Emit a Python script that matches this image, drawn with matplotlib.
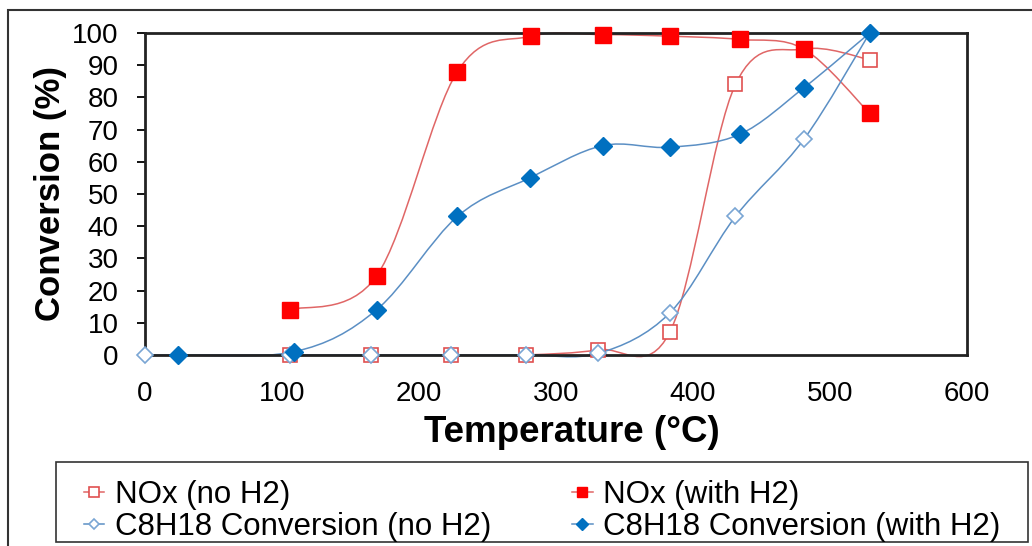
import matplotlib
matplotlib.use("Agg")
import matplotlib.pyplot as plt
from matplotlib.path import Path
from matplotlib.patches import PathPatch, Rectangle
from matplotlib.lines import Line2D

plt.rcParams['font.family'] = ['Liberation Sans', 'DejaVu Sans']

###################################
# Data

nox_no_h2_t = [106, 165, 223, 278, 331, 383, 431, 481, 529]
nox_no_h2 = [0, 0, 0, 0, 1.6, 7, 84, 95, 91.7]

nox_h2_t = [106, 169, 228, 282, 334, 383, 434, 481, 529]
nox_h2 = [14, 24.5, 88, 99, 99.5, 99, 98, 95, 75]

c8_no_h2_t = [0, 106, 165, 223, 278, 331, 383, 431, 481, 529]
c8_no_h2 = [0, 0, 0, 0, 0, 0.5, 13, 43, 67, 100]

c8_h2_t = [24, 109, 169, 228, 281, 334, 383, 434, 481, 529]
c8_h2 = [0, 1, 14, 43, 55, 65, 64.5, 68.5, 83, 100]

labels = ['NOx (no H2)', 'NOx (with H2)',
          'C8H18 Conversion (no H2)', 'C8H18 Conversion (with H2)']

RED_LINE = '#e06666'
BLUE_LINE = '#5b8fc4'
RED = '#ff0000'
BLUE = '#0070c0'


def smooth_path(xs, ys):
    """
    Excel style smoothed line: cubic bezier segments through every point
    """
    pts = list(zip(xs, ys))
    n = len(pts)
    verts = [pts[0]]
    codes = [Path.MOVETO]
    for i in range(n - 1):
        p0 = pts[max(i - 1, 0)]
        p1 = pts[i]
        p2 = pts[i + 1]
        p3 = pts[min(i + 2, n - 1)]
        c1 = (p1[0] + (p2[0] - p0[0]) / 6.0, p1[1] + (p2[1] - p0[1]) / 6.0)
        c2 = (p2[0] - (p3[0] - p1[0]) / 6.0, p2[1] - (p3[1] - p1[1]) / 6.0)
        verts += [c1, c2, p2]
        codes += [Path.CURVE4] * 3
    return Path(verts, codes)


fig = plt.figure(figsize=(10.32, 5.46), dpi=100)
ax = fig.add_axes([0.1405, 0.35, 0.7965, 0.5896])

series = [
    (nox_no_h2_t, nox_no_h2, RED_LINE, dict(marker='s', ms=10, mfc='white', mec='#e05050', mew=1.2)),
    (nox_h2_t, nox_h2, RED_LINE, dict(marker='s', ms=11, mfc=RED, mec=RED, mew=1)),
    (c8_no_h2_t, c8_no_h2, BLUE_LINE, dict(marker='D', ms=8, mfc='white', mec='#7aa6d4', mew=1.2)),
    (c8_h2_t, c8_h2, BLUE_LINE, dict(marker='D', ms=9, mfc=BLUE, mec=BLUE, mew=1)),
]

handles = []
for xs, ys, lc, mk in series:
    patch = PathPatch(smooth_path(xs, ys), facecolor='none', edgecolor=lc,
                      lw=1.1, clip_on=False, zorder=2)
    ax.add_patch(patch)
    ax.plot(xs, ys, linestyle='none', clip_on=False, zorder=3, **mk)
    handles.append(Line2D([], [], color=lc, lw=1.1, **mk))

ax.set_xlim(0, 600)
ax.set_ylim(0, 100)
ax.set_xticks(range(0, 601, 100))
ax.set_yticks(range(0, 101, 10))
ax.tick_params(axis='x', length=0, pad=19, labelsize=20)
ax.tick_params(axis='y', length=6, width=1.3, pad=13, labelsize=20)
for s in ax.spines.values():
    s.set_linewidth(2)
    s.set_color('#222222')

ax.set_ylabel('Conversion (%)', fontsize=25, fontweight='bold', labelpad=4)
fig.text(0.554, 0.208, 'Temperature (\u00b0C)', fontsize=26.5, fontweight='bold',
         ha='center', va='center')

# legend: column-major order so rows read NOx / C8H18
order = [0, 2, 1, 3]
leg = fig.legend([handles[i] for i in order], [labels[i] for i in order],
                 ncol=2, loc='upper left', bbox_to_anchor=(84 / 1032, 1 - 480 / 546),
                 fontsize=22.5, frameon=False, handlelength=0.65, handletextpad=0.33,
                 borderaxespad=0, borderpad=0, labelspacing=0.05,
                 columnspacing=2.6, markerscale=0.7)

# legend frame
fig.patches.append(Rectangle((56 / 1032, 1 - 542 / 546), 972 / 1032, 80 / 546,
                             transform=fig.transFigure, fill=False,
                             edgecolor='#333333', lw=1.2))

# chart area border (cut off at right and bottom)
fig.patches.append(Rectangle((0.00775, -0.1), 1.2, 1.0817, transform=fig.transFigure,
                             fill=False, edgecolor='#333333', lw=1.5))

fig.savefig('out.png', dpi=100)
